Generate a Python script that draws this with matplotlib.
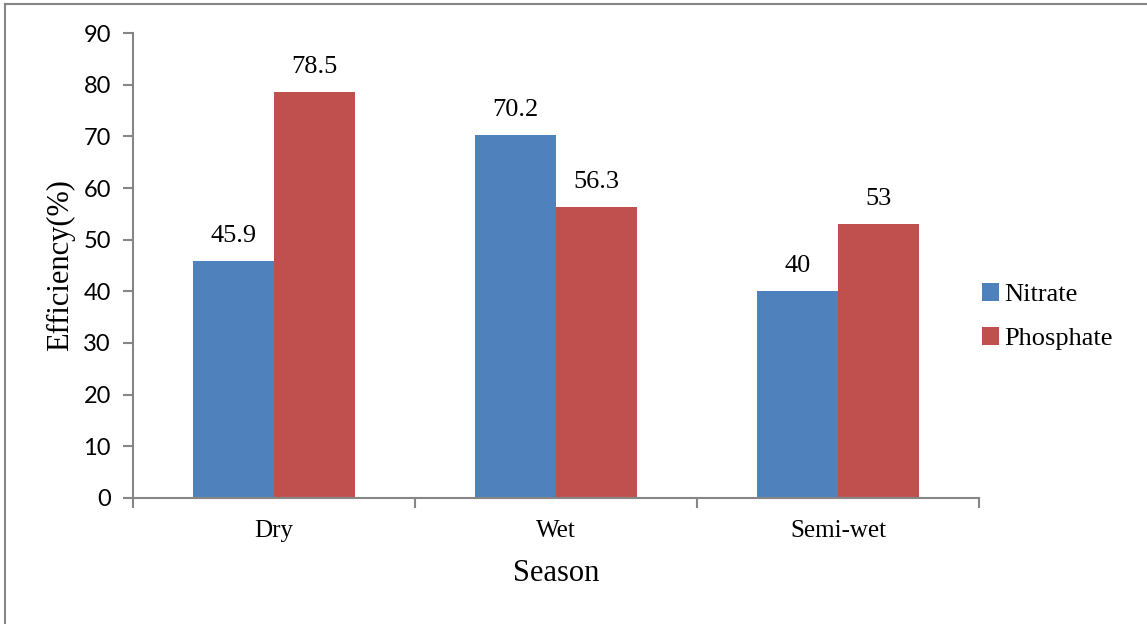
import matplotlib
matplotlib.use("Agg")
import matplotlib.pyplot as plt
import numpy as np
from matplotlib.lines import Line2D

seasons = ['Dry', 'Wet', 'Semi-wet']
nitrate = [45.9, 70.2, 40]
phosphate = [78.5, 56.3, 53]
yticks = [0, 10, 20, 30, 40, 50, 60, 70, 80, 90]

blue = '#4F81BD'
red = '#C0504D'
axis_gray = '#868686'
serif = 'Liberation Serif'
sans = 'Lato'

fig = plt.figure(figsize=(11.47, 6.24), dpi=100)
ax = fig.add_axes([0.116, 0.202, 0.7375, 0.745])

x = np.arange(len(seasons))
w = 0.287
b1 = ax.bar(x - w / 2, nitrate, w, color=blue, label='Nitrate')
b2 = ax.bar(x + w / 2, phosphate, w, color=red, label='Phosphate')

for bars, vals in ((b1, nitrate), (b2, phosphate)):
    for bar, v in zip(bars, vals):
        ax.annotate(f'{v:g}', (bar.get_x() + bar.get_width() / 2, v),
                    xytext=(0, 18), textcoords='offset points',
                    ha='center', va='center', fontsize=19, family=serif)

ax.set_xlim(-0.5, len(seasons) - 0.5)
ax.set_ylim(0, 90)
ax.set_yticks(yticks)
ax.set_yticklabels([str(t) for t in yticks], family=sans, fontsize=17)
ax.set_xticks(x)
ax.set_xticklabels(seasons, family=serif, fontsize=18)
ax.set_xticks(np.arange(-0.5, len(seasons)), minor=True)
ax.tick_params(axis='x', which='major', length=0, pad=16)
ax.tick_params(axis='x', which='minor', length=7, color=axis_gray, width=1.5)
ax.tick_params(axis='y', length=7, color=axis_gray, width=1.5, pad=9)

for side in ('top', 'right'):
    ax.spines[side].set_visible(False)
for side in ('left', 'bottom'):
    ax.spines[side].set_color(axis_gray)
    ax.spines[side].set_linewidth(1.5)

ax.set_ylabel('Efficiency(%)', family=serif, fontsize=22, labelpad=6)
ax.set_xlabel('Season', family=serif, fontsize=22, labelpad=12)

ax.legend(loc='center left', bbox_to_anchor=(0.975, 0.39), frameon=False,
          prop={'family': serif, 'size': 19}, handlelength=0.65,
          handleheight=0.65, handletextpad=0.2, labelspacing=0.8)

# outer frame, only top and left edges show
fig.add_artist(Line2D([0.0045, 1.0], [0.9935, 0.9935], color=axis_gray, lw=1.5))
fig.add_artist(Line2D([0.0045, 0.0045], [0.0, 0.9935], color=axis_gray, lw=1.5))

fig.savefig('out.png', dpi=100)
